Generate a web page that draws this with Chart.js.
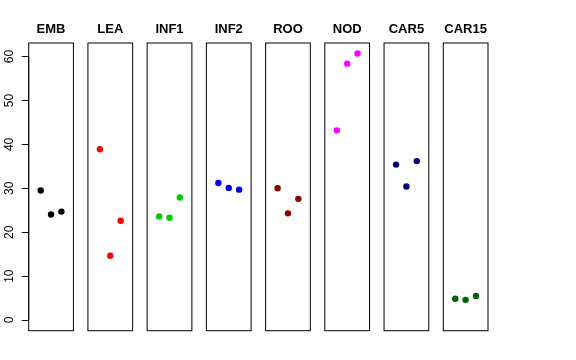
<!DOCTYPE html>
<html>
<head>
<meta charset="utf-8">
<script src="https://cdn.jsdelivr.net/npm/chart.js@4"></script>
<style>
html,body{margin:0;padding:0;background:#fff;}
#wrap{width:576px;height:360px;position:relative;}
</style>
</head>
<body>
<div id="wrap"><canvas id="c" width="576" height="360"></canvas></div>
<script>
// ---- data ----
const CATEGORIES = ["EMB", "LEA", "INF1", "INF2", "ROO", "NOD", "CAR5", "CAR15"];
const EMB   = [29.5, 24.05, 24.7];
const LEA   = [38.9, 14.65, 22.6];
const INF1  = [23.6, 23.3, 27.9];
const INF2  = [31.2, 30.1, 29.7];
const ROO   = [30.0, 24.3, 27.6];
const NOD   = [43.2, 58.4, 60.7];
const CAR5  = [35.4, 30.4, 36.2];
const CAR15 = [4.85, 4.6, 5.5];
const Y_TICKS = [0, 10, 20, 30, 40, 50, 60];

// ---- styles / layout ----
const SERIES = [EMB, LEA, INF1, INF2, ROO, NOD, CAR5, CAR15];
const COLORS = ["#000000", "#FF0000", "#00CD00", "#0000FF", "#8B0000", "#FF00FF", "#000080", "#006400"];
const STEP = 5.72;          // panel spacing in x units
const PAD = 0.16;           // panel x-range extension
const Y_MIN = -2.43, Y_MAX = 63.1;

const datasets = SERIES.map((vals, i) => ({
  label: CATEGORIES[i],
  data: vals.map((v, j) => ({ x: i * STEP + (j + 1), y: v })),
  backgroundColor: COLORS[i],
  borderColor: COLORS[i],
  pointRadius: 3.2,
  pointBorderWidth: 0,
  showLine: false
}));

const panelPlugin = {
  id: 'panels',
  beforeDatasetsDraw(chart) {
    const ctx = chart.ctx;
    const xs = chart.scales.x, ys = chart.scales.y;
    const top = ys.getPixelForValue(Y_MAX), bottom = ys.getPixelForValue(Y_MIN);
    ctx.save();
    ctx.strokeStyle = '#000';
    ctx.lineWidth = 1;
    CATEGORIES.forEach((name, i) => {
      const l = xs.getPixelForValue(i * STEP - PAD);
      const r = xs.getPixelForValue(i * STEP + 4 + PAD);
      ctx.strokeRect(l, top, r - l, bottom - top);
      ctx.fillStyle = '#000';
      ctx.font = 'bold 13px "Liberation Sans", Arial, sans-serif';
      ctx.textAlign = 'center';
      ctx.textBaseline = 'alphabetic';
      ctx.fillText(name, (l + r) / 2, top - 10);
    });
    // y axis line from first to last tick
    const ax = xs.getPixelForValue(-PAD);
    ctx.beginPath();
    ctx.moveTo(ax, ys.getPixelForValue(Y_TICKS[0]));
    ctx.lineTo(ax, ys.getPixelForValue(Y_TICKS[Y_TICKS.length - 1]));
    ctx.stroke();
    ctx.restore();
  }
};

new Chart(document.getElementById('c'), {
  type: 'scatter',
  data: { datasets },
  options: {
    responsive: false,
    animation: false,
    layout: { padding: { left: 0, right: 88, top: 43, bottom: 29.3 } },
    plugins: { legend: { display: false }, tooltip: { enabled: false } },
    scales: {
      x: {
        type: 'linear',
        display: false,
        min: -PAD,
        max: 7 * STEP + 4 + PAD
      },
      y: {
        type: 'linear',
        min: Y_MIN,
        max: Y_MAX,
        afterBuildTicks(scale) { scale.ticks = Y_TICKS.map(v => ({ value: v })); },
        afterFit(scale) { scale.width = 28.7; },
        border: { display: false },
        grid: { display: true, drawOnChartArea: false, drawTicks: true, tickLength: 7, color: '#000', lineWidth: 1 },
        ticks: {
          minRotation: 90, maxRotation: 90,
          crossAlign: 'center',
          padding: 5,
          color: '#000',
          autoSkip: false,
          font: { family: '"Liberation Sans", Arial, sans-serif', size: 12 }
        }
      }
    }
  },
  plugins: [panelPlugin]
});
</script>
</body>
</html>
